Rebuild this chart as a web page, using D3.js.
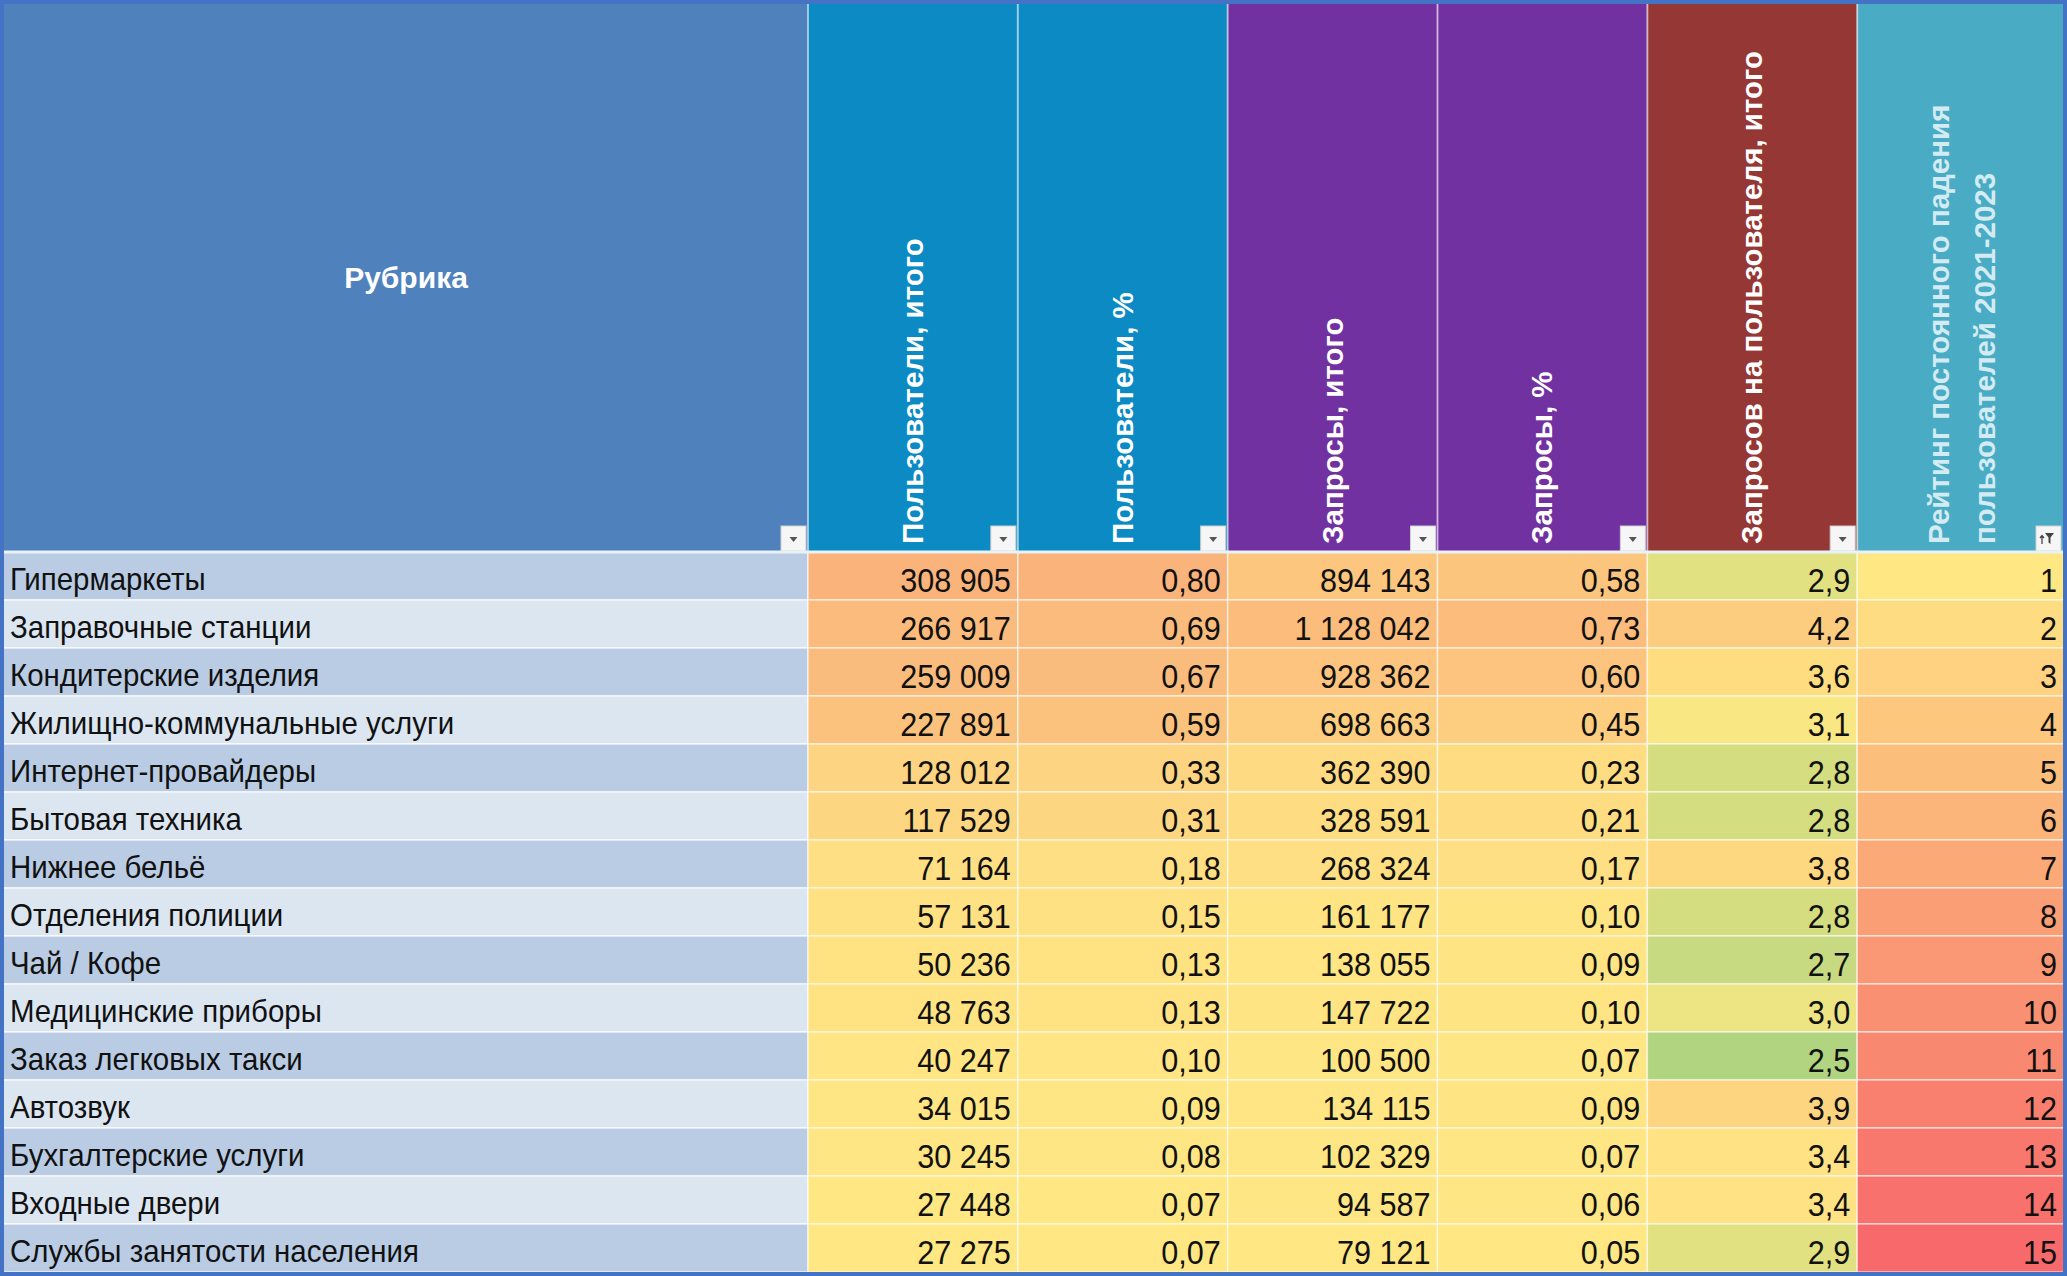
<!DOCTYPE html>
<html>
<head>
<meta charset="utf-8">
<script src="https://cdnjs.cloudflare.com/ajax/libs/d3/7.8.5/d3.min.js"></script>
<style>
    body { margin: 0; background: #fff; }
    svg text { font-family: "Liberation Sans", Arial, sans-serif; }
</style>
</head>
<body>
<div id="rubric-table"></div>
<script>
'use strict';

// table data
var categories = [
    'Гипермаркеты',
    'Заправочные станции',
    'Кондитерские изделия',
    'Жилищно-коммунальные услуги',
    'Интернет-провайдеры',
    'Бытовая техника',
    'Нижнее бельё',
    'Отделения полиции',
    'Чай / Кофе',
    'Медицинские приборы',
    'Заказ легковых такси',
    'Автозвук',
    'Бухгалтерские услуги',
    'Входные двери',
    'Службы занятости населения'
];

var users = [308905, 266917, 259009, 227891, 128012, 117529, 71164, 57131, 50236, 48763, 40247, 34015, 30245, 27448, 27275];
var usersPct = [0.80, 0.69, 0.67, 0.59, 0.33, 0.31, 0.18, 0.15, 0.13, 0.13, 0.10, 0.09, 0.08, 0.07, 0.07];
var requests = [894143, 1128042, 928362, 698663, 362390, 328591, 268324, 161177, 138055, 147722, 100500, 134115, 102329, 94587, 79121];
var requestsPct = [0.58, 0.73, 0.60, 0.45, 0.23, 0.21, 0.17, 0.10, 0.09, 0.10, 0.07, 0.09, 0.07, 0.06, 0.05];
var requestsPerUser = [2.9, 4.2, 3.6, 3.1, 2.8, 2.8, 3.8, 2.8, 2.7, 3.0, 2.5, 3.9, 3.4, 3.4, 2.9];
var rating = [1, 2, 3, 4, 5, 6, 7, 8, 9, 10, 11, 12, 13, 14, 15];

var rubricTitle = 'Рубрика';
var headerTitles = [
    ['Пользователи, итого'],
    ['Пользователи, %'],
    ['Запросы, итого'],
    ['Запросы, %'],
    ['Запросов на пользователя, итого'],
    ['Рейтинг постоянного падения', 'пользователей 2021-2023']
];

var moduleRubricTable = (function() {

    var width = 2067,
        height = 1276;

    var headerHeight = 552,
        nameWidth = 808,
        border = 4;

    var ru = d3.formatLocale({decimal: ',', thousands: '\u00a0', grouping: [3], currency: ['', '']});
    var fmtInt = ru.format(',d'),
        fmtPct = ru.format(',.2f'),
        fmtOne = ru.format(',.1f');

    var svg = d3.select('#rubric-table').append('svg')
        .attr('width', width)
        .attr('height', height);

    var columns = [
        {title: headerTitles[0], values: users, fmt: fmtInt, head: '#0b8ac3', text: '#fff',
            color: d3.scaleLinear().domain(d3.extent(users)).range(['#ffe784', '#f9b37b'])},
        {title: headerTitles[1], values: usersPct, fmt: fmtPct, head: '#0b8ac3', text: '#fff',
            color: d3.scaleLinear().domain(d3.extent(usersPct)).range(['#ffe784', '#f9b37b'])},
        {title: headerTitles[2], values: requests, fmt: fmtInt, head: '#7131a0', text: '#fff',
            color: d3.scaleLinear().domain(d3.extent(requests)).range(['#ffe784', '#fbbc7c'])},
        {title: headerTitles[3], values: requestsPct, fmt: fmtPct, head: '#7131a0', text: '#fff',
            color: d3.scaleLinear().domain(d3.extent(requestsPct)).range(['#ffe784', '#fbbc7c'])},
        {title: headerTitles[4], values: requestsPerUser, fmt: fmtOne, head: '#953735', text: '#fff',
            color: d3.scaleLinear().domain([2.5, 3.15, 4.2]).range(['#b0d47f', '#ffe984', '#fccd7e'])},
        {title: headerTitles[5], values: rating, fmt: fmtInt, head: '#4aabc5', text: '#d3ebf2', sort: true,
            color: d3.scaleLinear().domain([1, 8, 15]).range(['#ffe784', '#fa9f75', '#f8696b'])}
    ];

    var x = d3.scaleBand()
        .domain(d3.range(columns.length))
        .range([nameWidth, width]);

    var y = d3.scaleBand()
        .domain(categories)
        .range([headerHeight, height - border]);

    var init = function() {

        // header
        var head = svg.append('g').attr('class', 'header');

        head.append('rect')
            .attrs({x: 0, y: 0, width: nameWidth, height: headerHeight, fill: '#4f81bd'});

        head.append('text')
            .attrs({x: nameWidth / 2 + 2, y: 288, 'text-anchor': 'middle', fill: '#fff',
                'font-size': 30, 'font-weight': 'bold'})
            .text(rubricTitle);

        var hcell = head.selectAll('g.hcell')
            .data(columns)
            .enter()
            .append('g')
            .attr('class', 'hcell');

        hcell.append('rect')
            .attrs({
                x: function(d, i) { return x(i); },
                y: 0,
                width: x.bandwidth(),
                height: headerHeight,
                fill: function(d) { return d.head; }
            });

        hcell.append('g')
            .attr('transform', function(d, i) {
                return 'translate(' + (x(i) + x.bandwidth() / 2) + ',544) rotate(-90)';
            })
            .each(function(d) {
                var n = d.title.length;
                d3.select(this).selectAll('text')
                    .data(d.title)
                    .enter()
                    .append('text')
                    .attrs({
                        x: 0,
                        y: function(t, j) { return 10 - 23 * (n - 1) + j * 46; },
                        fill: d.text,
                        'font-size': 29.5,
                        'font-weight': 'bold'
                    })
                    .text(function(t) { return t; });
            });

        // separators inside header
        head.selectAll('line.hsep')
            .data(columns)
            .enter()
            .append('line')
            .attrs({
                x1: function(d, i) { return x(i); },
                x2: function(d, i) { return x(i); },
                y1: 0,
                y2: headerHeight,
                stroke: 'rgba(255,255,255,0.55)',
                'stroke-width': 2
            });

        // filter buttons
        var rights = [nameWidth].concat(columns.map(function(d, i) { return x(i) + x.bandwidth(); }));
        var btn = head.selectAll('g.btn')
            .data(rights)
            .enter()
            .append('g')
            .attr('class', 'btn')
            .attr('transform', function(d, i) {
                var r = i === rights.length - 1 ? d - border : d;
                return 'translate(' + (r - 27) + ',526)';
            });

        btn.append('rect')
            .attrs({x: 0, y: 0, width: 25, height: 25, fill: '#f6f6f6', stroke: '#cfcfcf', 'stroke-width': 1});

        btn.filter(function(d, i) { return i < rights.length - 1; })
            .append('path')
            .attr('d', 'M8.5,11 L16.5,11 L12.5,16 Z')
            .attr('fill', '#555');

        var sortBtn = btn.filter(function(d, i) { return i === rights.length - 1; });
        sortBtn.append('path')
            .attr('d', 'M9,7 L18,7 L14.5,11.5 L14.5,18 L12.5,16.5 L12.5,11.5 Z')
            .attr('fill', '#444');
        sortBtn.append('path')
            .attr('d', 'M6,18 L6,10 M4,12 L6,9.5 L8,12')
            .attrs({fill: 'none', stroke: '#444', 'stroke-width': 1.3});

        // body
        var body = svg.append('g').attr('class', 'body');

        body.selectAll('rect.name')
            .data(categories)
            .enter()
            .append('rect')
            .attrs({
                x: 0,
                y: function(d) { return y(d); },
                width: nameWidth,
                height: y.bandwidth(),
                fill: function(d, i) { return i % 2 ? '#dce6f1' : '#b9cce4'; },
                stroke: 'rgba(255,255,255,0.7)',
                'stroke-width': 1.5
            });

        body.selectAll('text.name')
            .data(categories)
            .enter()
            .append('text')
            .attr('transform', function(d) { return 'translate(10,' + (y(d) + 38) + ') scale(0.965,1)'; })
            .attrs({fill: '#111', 'font-size': 30.5})
            .text(function(d) { return d; });

        columns.forEach(function(col, ci) {
            var g = body.append('g').attr('class', 'col-' + ci);

            g.selectAll('rect')
                .data(col.values)
                .enter()
                .append('rect')
                .attrs({
                    x: x(ci),
                    y: function(d, i) { return y(categories[i]); },
                    width: x.bandwidth(),
                    height: y.bandwidth(),
                    fill: function(d) { return col.color(d); },
                    stroke: 'rgba(255,255,255,0.6)',
                    'stroke-width': 1.5
                });

            var right = x(ci) + x.bandwidth() - (ci === columns.length - 1 ? 10 : 7);
            g.selectAll('text')
                .data(col.values)
                .enter()
                .append('text')
                .attr('transform', function(d, i) {
                    return 'translate(' + right + ',' + (y(categories[i]) + 40) + ') scale(0.9,1)';
                })
                .attrs({'text-anchor': 'end', fill: '#111', 'font-size': 34})
                .text(function(d) { return col.fmt(d); });
        });

        // line under the header
        svg.append('line')
            .attrs({x1: 0, x2: width, y1: headerHeight, y2: headerHeight,
                stroke: '#e8f3f8', 'stroke-width': 3});

        // outer frame
        svg.append('rect')
            .attrs({x: border / 2, y: border / 2, width: width - border, height: height - border,
                fill: 'none', stroke: '#4472c4', 'stroke-width': border});
    };

    return {
        init: init
    };
})();

// d3 v7 has no .attrs(), add the small helper the module relies on
d3.selection.prototype.attrs = function(map) {
    var sel = this;
    Object.keys(map).forEach(function(k) { sel.attr(k, map[k]); });
    return sel;
};

moduleRubricTable.init();
</script>
</body>
</html>
